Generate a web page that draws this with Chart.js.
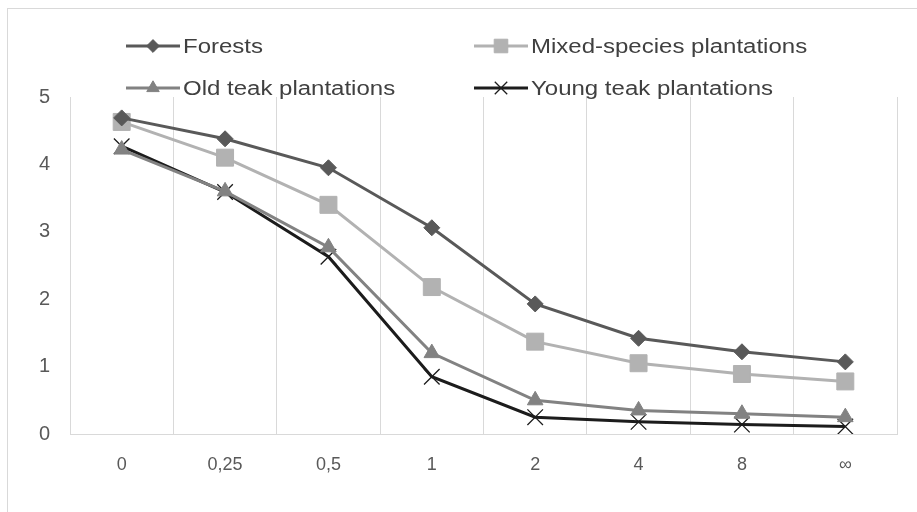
<!DOCTYPE html>
<html lang="en">
<head>
<meta charset="UTF-8">
<title>Line chart</title>
<script src="https://cdn.jsdelivr.net/npm/chart.js"></script>
<style>
body{margin:0;background:#fff;font-family:"Liberation Sans",Arial,sans-serif;}
.frame{position:absolute;left:7px;top:8px;width:940px;height:540px;border:1px solid #d9d9d9;}
.wrap{position:absolute;left:0;top:0;width:917px;height:512px;}
</style>
</head>
<body>
<div class="frame"></div>
<div class="wrap"><canvas id="c"></canvas></div>
<script>
/* ---- data ---- */
const categories=["0","0,25","0,5","1","2","4","8","\u221e"];
const yTicks=[0,1,2,3,4,5];

const forests   =[4.69,4.38,3.95,3.06,1.93,1.42,1.22,1.07];
const mixed     =[4.63,4.10,3.40,2.18,1.37,1.05,0.89,0.78];
const oldTeak   =[4.22,3.60,2.77,1.20,0.50,0.35,0.30,0.25];
const youngTeak =[4.27,3.59,2.63,0.85,0.25,0.18,0.14,0.11];

const seriesNames=["Forests","Mixed-species plantations","Old teak plantations","Young teak plantations"];

/* ---- styles ---- */
const COLORS={forests:"#595959",mixed:"#b2b2b2",oldTeak:"#828282",young:"#1c1c1c"};
const GRID="#d9d9d9";
const TXT="#595959";

function ds(label,data,color,style,r,bw){
    return {label,data,borderColor:color,backgroundColor:color,
        pointBackgroundColor:color,pointBorderColor:color,
        pointStyle:style,pointRadius:r,pointHoverRadius:r,pointBorderWidth:bw,
        borderWidth:3,tension:0,fill:false};
}

/* legend drawn by hand: 2 columns x 2 rows, line + marker + text (text a bit wide, like the source) */
const legendPos=[[126,46],[474,46],[126,88],[474,88]];
const legendPlugin={
    id:"twoColLegend",
    afterDraw(chart){
        const ctx=chart.ctx;
        chart.data.datasets.forEach((d,i)=>{
            const [x,y]=legendPos[i];
            ctx.save();
            ctx.strokeStyle=d.borderColor;
            ctx.lineWidth=3;
            ctx.beginPath();ctx.moveTo(x,y);ctx.lineTo(x+54,y);ctx.stroke();
            ctx.fillStyle=d.pointBackgroundColor;
            ctx.strokeStyle=d.pointBorderColor;
            ctx.lineWidth=d.pointBorderWidth;
            Chart.helpers.drawPoint(ctx,{pointStyle:d.pointStyle,radius:d.pointRadius*0.8,borderWidth:d.pointBorderWidth},x+27,y);
            ctx.fillStyle="#404040";
            ctx.font='20px "Liberation Sans", Arial, sans-serif';
            ctx.textBaseline="middle";
            ctx.translate(x+57,y+1);
            ctx.scale(1.2,1);
            ctx.fillText(d.label,0,0);
            ctx.restore();
        });
    }
};

new Chart(document.getElementById("c"),{
    type:"line",
    data:{
        labels:categories,
        datasets:[
            ds(seriesNames[0],forests,  COLORS.forests,"rectRot",8,1),
            ds(seriesNames[1],mixed,    COLORS.mixed,  "rect",12,1),
            ds(seriesNames[2],oldTeak,  COLORS.oldTeak,"triangle",9,1),
            ds(seriesNames[3],youngTeak,COLORS.young,  "crossRot",11,1.3)
        ]
    },
    options:{
        animation:false,
        responsive:true,
        maintainAspectRatio:false,
        layout:{padding:{top:97,right:20,left:0,bottom:0}},
        plugins:{legend:{display:false},tooltip:{enabled:false}},
        scales:{
            x:{
                offset:true,
                grid:{offset:true,color:GRID,lineWidth:1,drawTicks:false},
                border:{display:true,color:GRID,width:1},
                ticks:{color:TXT,padding:20,font:{family:"Liberation Sans",size:18}},
                afterFit:s=>{s.height=78;}
            },
            y:{
                min:0,max:5,
                afterBuildTicks:s=>{s.ticks=yTicks.map(v=>({value:v}));},
                grid:{display:false,drawTicks:false},
                border:{display:false},
                ticks:{color:TXT,padding:20,font:{family:"Liberation Sans",size:20}},
                afterFit:s=>{s.width=70;}
            }
        }
    },
    plugins:[legendPlugin]
});
</script>
</body>
</html>
